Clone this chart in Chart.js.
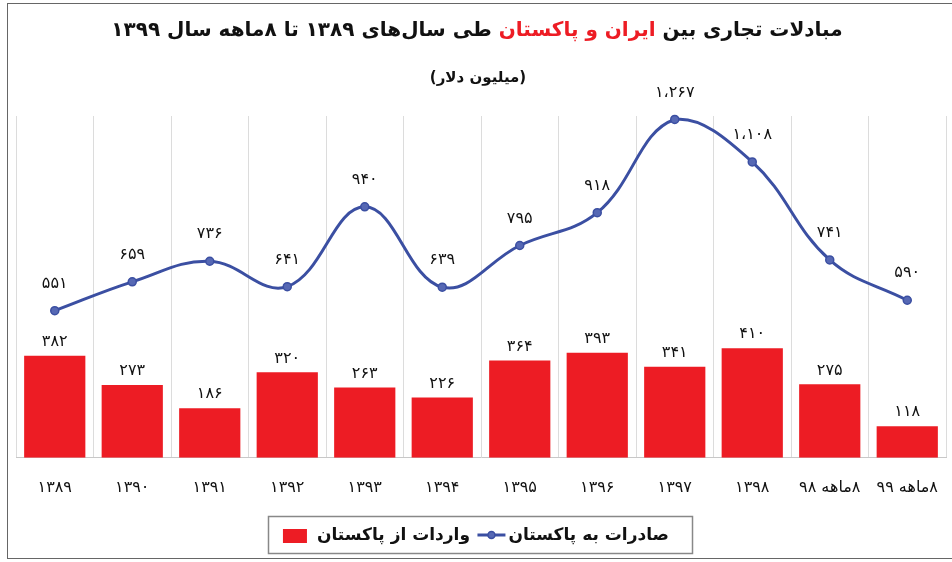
<!DOCTYPE html>
<html>
<head>
<meta charset="utf-8">
<script src="https://cdn.jsdelivr.net/npm/chart.js@4/dist/chart.umd.min.js"></script>
<style>
  html, body { margin: 0; padding: 0; background: #fff; }
  #wrap { position: relative; width: 952px; height: 562px; }
  #frame { position: absolute; left: 7px; top: 3px; width: 950px; height: 556px; border: 1.5px solid #666; box-sizing: border-box; pointer-events: none; }
  canvas { direction: rtl; }
</style>
</head>
<body>
<div id="wrap">
  <canvas id="myChart" width="952" height="562"></canvas>
  <div id="frame"></div>
</div>
<script>
var years = ['۱۳۸۹', '۱۳۹۰', '۱۳۹۱', '۱۳۹۲', '۱۳۹۳', '۱۳۹۴', '۱۳۹۵', '۱۳۹۶', '۱۳۹۷', '۱۳۹۸', '۸ماهه ۹۸', '۸ماهه ۹۹'];
var exportsToPakistan = [551, 659, 736, 641, 940, 639, 795, 918, 1267, 1108, 741, 590];
var importsFromPakistan = [382, 273, 186, 320, 263, 226, 364, 393, 341, 410, 275, 118];

var FONT = '"DejaVu Sans", sans-serif';
var RED = '#ED1C24';
var BLUE = '#3B4FA2';

function toPersian(n) {
  var s = String(n).replace(/\B(?=(\d{3})+(?!\d))/g, '،');
  return s.replace(/\d/g, function (d) { return '۰۱۲۳۴۵۶۷۸۹'[d]; });
}

// title with a red part, drawn right to left
var titlePlugin = {
  id: 'titleText',
  afterDraw: function (chart) {
    var ctx = chart.ctx;
    ctx.save();
    ctx.direction = 'rtl';
    ctx.textBaseline = 'middle';
    ctx.textAlign = 'right';
    ctx.font = 'bold 20px ' + FONT;
    var parts = [
      ['مبادلات تجاری بین ', '#111'],
      ['ایران و پاکستان', RED],
      [' طی سال‌های ۱۳۸۹ تا ۸ماهه سال ۱۳۹۹', '#111']
    ];
    var total = 0;
    parts.forEach(function (p) { total += ctx.measureText(p[0]).width; });
    var x = 477 + total / 2;
    parts.forEach(function (p) {
      ctx.fillStyle = p[1];
      ctx.fillText(p[0], x, 31);
      x -= ctx.measureText(p[0]).width;
    });
    ctx.textAlign = 'center';
    ctx.fillStyle = '#111';
    ctx.font = 'bold 15px ' + FONT;
    ctx.fillText('(میلیون دلار)', 478, 78);
    ctx.restore();
  }
};

var valueLabels = {
  id: 'valueLabels',
  afterDatasetsDraw: function (chart) {
    var ctx = chart.ctx;
    ctx.save();
    ctx.direction = 'ltr';
    ctx.textAlign = 'center';
    ctx.textBaseline = 'middle';
    ctx.fillStyle = '#111';
    ctx.font = '16px ' + FONT;
    chart.data.datasets.forEach(function (ds, i) {
      var meta = chart.getDatasetMeta(i);
      meta.data.forEach(function (el, j) {
        var off = ds.type === 'line' ? 27 : 14;
        ctx.fillText(toPersian(ds.data[j]), el.x, el.y - off);
      });
    });
    ctx.restore();
  }
};

var legendBox = {
  id: 'legendBox',
  afterDraw: function (chart) {
    var ctx = chart.ctx;
    var ds = chart.data.datasets;
    ctx.save();
    ctx.strokeStyle = '#888';
    ctx.lineWidth = 1.5;
    ctx.strokeRect(268.5, 516.5, 424, 37);
    ctx.direction = 'rtl';
    ctx.textAlign = 'right';
    ctx.textBaseline = 'middle';
    ctx.fillStyle = '#111';
    ctx.font = 'bold 17px ' + FONT;
    // line item
    ctx.fillText(ds[0].label, 669, 536);
    var w0 = ctx.measureText(ds[0].label).width;
    var lx = 669 - w0 - 3;
    ctx.strokeStyle = ds[0].borderColor;
    ctx.lineWidth = 3;
    ctx.beginPath();
    ctx.moveTo(lx - 28, 535);
    ctx.lineTo(lx, 535);
    ctx.stroke();
    ctx.beginPath();
    ctx.arc(lx - 14, 535, 3.5, 0, Math.PI * 2);
    ctx.fillStyle = ds[0].pointBackgroundColor;
    ctx.fill();
    ctx.lineWidth = 1.5;
    ctx.stroke();
    // bar item
    ctx.fillStyle = '#111';
    ctx.font = 'bold 17px ' + FONT;
    ctx.fillText(ds[1].label, 470, 536);
    var w1 = ctx.measureText(ds[1].label).width;
    ctx.fillStyle = ds[1].backgroundColor;
    ctx.fillRect(470 - w1 - 34, 529, 24, 14);
    ctx.restore();
  }
};

var ctx = document.getElementById('myChart').getContext('2d');
var myChart = new Chart(ctx, {
  data: {
    labels: years,
    datasets: [{
      type: 'line',
      label: 'صادرات به پاکستان',
      data: exportsToPakistan,
      borderColor: BLUE,
      borderWidth: 3,
      tension: 0.4,
      pointRadius: 4,
      pointBorderWidth: 1.5,
      pointBackgroundColor: '#5668B4',
      pointBorderColor: BLUE,
      clip: false
    }, {
      type: 'bar',
      label: 'واردات از پاکستان',
      data: importsFromPakistan,
      backgroundColor: RED,
      categoryPercentage: 1,
      barPercentage: 0.79
    }]
  },
  options: {
    responsive: false,
    animation: false,
    layout: { padding: { left: 16, right: 6, top: 116, bottom: 45 } },
    plugins: {
      legend: { display: false },
      title: { display: false },
      tooltip: { enabled: false }
    },
    scales: {
      x: {
        offset: true,
        grid: { color: '#dcdcdc', offset: true, drawTicks: false },
        border: { color: '#c8c8c8' },
        ticks: { color: '#111', padding: 20, maxRotation: 0, autoSkip: false, font: { family: FONT, size: 16 } },
        afterFit: function (scale) { scale.paddingLeft = 0; scale.paddingRight = 0; }
      },
      y: { display: false, min: 0, max: 1280 }
    }
  },
  plugins: [titlePlugin, valueLabels, legendBox]
});
</script>
</body>
</html>
